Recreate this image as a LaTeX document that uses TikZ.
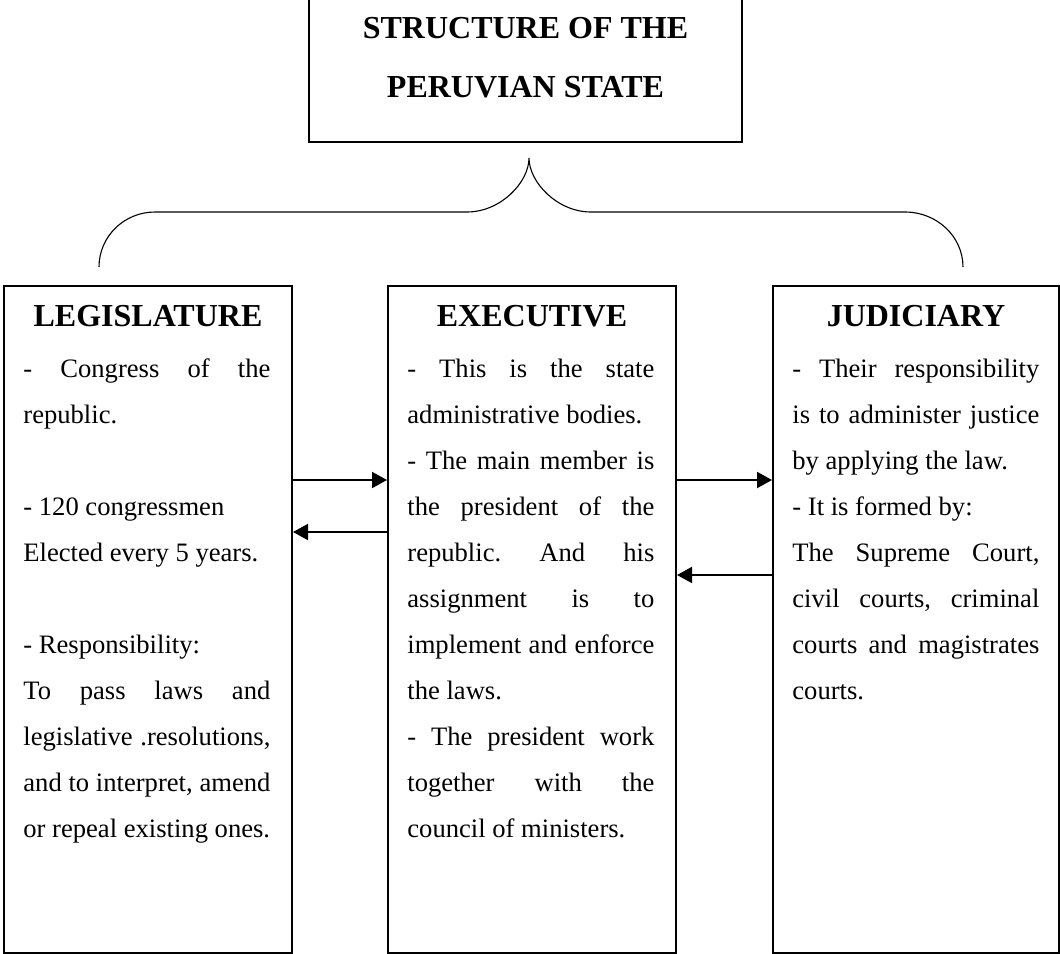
\documentclass[tikz,border=0pt]{standalone}
\usepackage{fontspec}
\setmainfont{Liberation Serif}
\usetikzlibrary{arrows.meta}
\frenchspacing
\newcommand\justline[1]{\makebox[123.5pt][s]{\spaceskip=0pt\relax\xspaceskip=0pt\relax #1}}
\newcommand\bodyset{\spaceskip=0pt\relax\xspaceskip=0pt\relax\frenchspacing}
\tikzset{
  panel/.style={draw, line width=1pt, minimum height=333.5pt, anchor=north west, inner sep=0pt},
  head/.style={font=\fontsize{16}{19}\selectfont\bfseries, anchor=base, inner sep=0pt},
  body/.style={font=\fontsize{13.3}{23}\selectfont, text width=126pt, align=left, anchor=base west, inner sep=0pt},
  link/.style={-{Triangle[length=7.5pt,width=8pt]}, line width=1pt},
  bracepath/.style={line width=0.55pt}
}
\begin{document}
\begin{tikzpicture}[x=0.5pt,y=-0.5pt]
\useasboundingbox (0,0) rectangle (1060,953);
\clip (0,0) rectangle (1060,953);
% helper levels
\coordinate (yA) at (0,480);
\coordinate (yB) at (0,532);
\coordinate (yC) at (0,575);
\coordinate (yH) at (0,326);
\coordinate (yT) at (0,377);
% top box
\node[draw, line width=1pt, minimum width=216.5pt, minimum height=90pt, anchor=south, inner sep=0pt] (state) at (525.5,143) {};
\node[font=\fontsize{16}{29}\selectfont\bfseries, align=center, anchor=base, inner sep=0pt] (statetxt) at (525.5,97) {STRUCTURE OF THE\\PERUVIAN STATE};
% brace
\coordinate (tip) at (529,158);
\coordinate (bl) at (99,267);
\coordinate (br) at (963,267);
\draw[bracepath] (bl) .. controls (99,236.6) and (124,212) .. (155,212) -- (467,212)
  .. controls (501,212) and (529,182) .. (tip)
  .. controls (529,182) and (557,212) .. (591,212) -- (905,212)
  .. controls (937,212) and (963,236.6) .. (br);
% panels
\node[panel, minimum width=144pt] (leg) at (3,285) {};
\node[panel, minimum width=144pt] (exe) at (387,285) {};
\node[panel, minimum width=143pt] (jud) at (772,285) {};
% headings
\node[head] (legh) at (leg.north |- yH) {LEGISLATURE};
\node[head] (exeh) at (exe.north |- yH) {EXECUTIVE};
\node[head] (judh) at (jud.north |- yH) {JUDICIARY};
% bodies
\node[body] (legb) at ([xshift=10pt]leg.west |- yT) {\bodyset\justline{- Congress of the}\\
republic.\\[23pt]
- 120 congressmen\\
Elected every 5 years.\\[23pt]
- Responsibility:\\
\justline{To pass laws and}\\
\justline{legislative .resolutions,}\\
\justline{and to interpret, amend}\\
or repeal existing ones.};
\node[body] (exeb) at ([xshift=10pt]exe.west |- yT) {\bodyset\justline{- This is the state}\\
administrative bodies.\\
\justline{- The main member is}\\
\justline{the president of the}\\
\justline{republic. And his}\\
\justline{assignment is to}\\
\justline{implement and enforce}\\
the laws.\\
\justline{- The president work}\\
\justline{together with the}\\
council of ministers.};
\node[body] (judb) at ([xshift=10pt]jud.west |- yT) {\bodyset\justline{- Their responsibility}\\
\justline{is to administer justice}\\
by applying the law.\\
- It is formed by:\\
\justline{The Supreme Court,}\\
\justline{civil courts, criminal}\\
\justline{courts and magistrates}\\
courts.};
% arrows
\draw[link] (leg.east |- yA) -- (exe.west |- yA);
\draw[link] (exe.west |- yB) -- (leg.east |- yB);
\draw[link] (exe.east |- yA) -- (jud.west |- yA);
\draw[link] (jud.west |- yC) -- (exe.east |- yC);
\end{tikzpicture}
\end{document}
